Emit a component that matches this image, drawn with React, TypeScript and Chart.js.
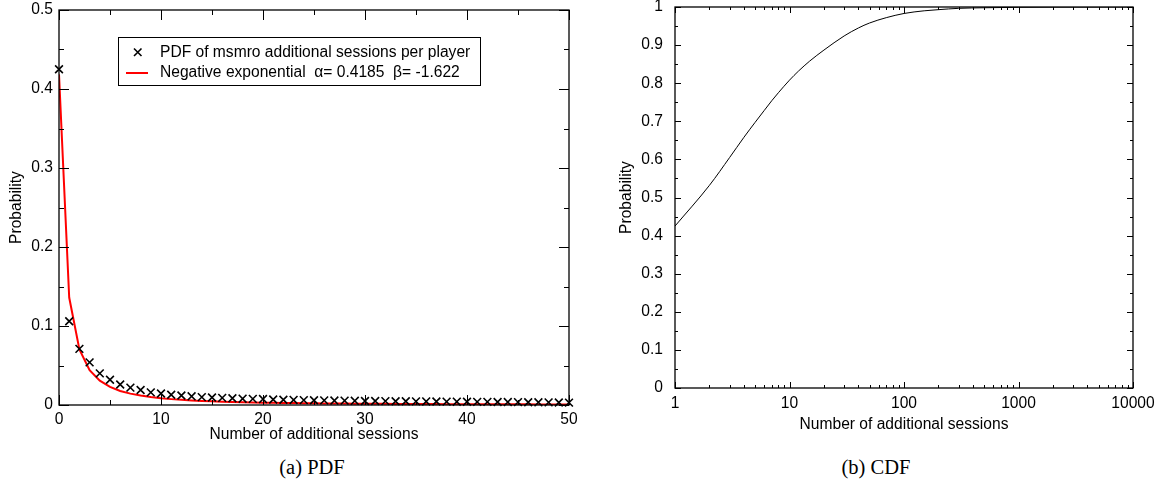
import React, { useEffect, useRef } from "react";
import { Chart, registerables } from "chart.js";

Chart.register(...registerables);

// ---------- Data ----------
const pdfX = [
  0, 1, 2, 3, 4, 5, 6, 7, 8, 9, 10, 11, 12, 13, 14, 15, 16, 17, 18, 19, 20, 21, 22, 23, 24, 25,
  26, 27, 28, 29, 30, 31, 32, 33, 34, 35, 36, 37, 38, 39, 40, 41, 42, 43, 44, 45, 46, 47, 48, 49, 50,
];
const pdfObserved = [
  0.425, 0.106, 0.071, 0.054, 0.04, 0.032, 0.026, 0.022, 0.019, 0.016, 0.0145, 0.013, 0.012, 0.011,
  0.01, 0.0095, 0.009, 0.0085, 0.008, 0.0078, 0.0075, 0.007, 0.0067, 0.0064, 0.0062, 0.006, 0.0058,
  0.0056, 0.0055, 0.0053, 0.0051, 0.005, 0.0049, 0.0048, 0.0047, 0.0046, 0.0045, 0.0044, 0.0043,
  0.0042, 0.0041, 0.004, 0.0039, 0.0038, 0.0037, 0.0036, 0.0035, 0.0034, 0.0033, 0.0032, 0.003,
];
const pdfFit = [
  0.4185, 0.136, 0.0704, 0.0442, 0.0308, 0.0229, 0.0178, 0.0144, 0.0119, 0.01, 0.00856, 0.00744,
  0.00653, 0.00579, 0.00518, 0.00466, 0.00423, 0.00385, 0.00353, 0.00324, 0.003, 0.00278, 0.00259,
  0.00241, 0.00226, 0.00212, 0.002, 0.00188, 0.00178, 0.00168, 0.0016, 0.00152, 0.00144, 0.00137,
  0.00131, 0.00125, 0.0012, 0.00115, 0.0011, 0.00105, 0.00101, 0.00097, 0.00094, 0.0009, 0.00087,
  0.00084, 0.00081, 0.00079, 0.00076, 0.00073, 0.00071,
];

const cdfX = [1, 2, 3, 4, 5, 6, 7, 8, 10, 12, 15, 20, 30, 40, 50, 70, 100, 150, 200, 300, 500, 1000, 2000, 5000, 10000];
const cdfY = [
  0.425, 0.532, 0.605, 0.658, 0.697, 0.728, 0.754, 0.775, 0.808, 0.832, 0.858, 0.887, 0.924, 0.945,
  0.958, 0.972, 0.983, 0.99, 0.993, 0.9965, 0.998, 0.9992, 0.9997, 0.9999, 1.0,
];

// ---------- Tick values ----------
const pdfXTicks = [0, 10, 20, 30, 40, 50];
const pdfXMinor = [5, 15, 25, 35, 45];
const pdfYTicks = [0, 0.1, 0.2, 0.3, 0.4, 0.5];
const pdfYMinor = [0.05, 0.15, 0.25, 0.35, 0.45];

const cdfXTicks = [1, 10, 100, 1000, 10000];
const cdfXMinor = [
  2, 3, 4, 5, 6, 7, 8, 9, 20, 30, 40, 50, 60, 70, 80, 90, 200, 300, 400, 500, 600, 700, 800, 900,
  2000, 3000, 4000, 5000, 6000, 7000, 8000, 9000,
];
const cdfYTicks = [0, 0.1, 0.2, 0.3, 0.4, 0.5, 0.6, 0.7, 0.8, 0.9, 1];
const cdfYMinor = [0.05, 0.15, 0.25, 0.35, 0.45, 0.55, 0.65, 0.75, 0.85, 0.95];

const legendLabels = ["PDF of msmro additional sessions per player", "Negative exponential  \u03b1= 0.4185  \u03b2= -1.622"];

const FONT_FAMILY = '"Liberation Sans", Arial, Helvetica, sans-serif';
const FONT_SIZE = 15.6;

// ---------- Plugins ----------
const frameTicks = {
  id: "frameTicks",
  afterDatasetsDraw(chart: any, _args: any, opts: any) {
    const { ctx, chartArea: a, scales } = chart;
    const xs = scales.x;
    const ys = scales.y;
    ctx.save();
    ctx.strokeStyle = "#000";
    ctx.lineWidth = 1;
    const seg = (x1: number, y1: number, x2: number, y2: number) => {
      ctx.beginPath();
      ctx.moveTo(x1, y1);
      ctx.lineTo(x2, y2);
      ctx.stroke();
    };
    const xTicks = (vals: number[], len: number) =>
      vals.forEach((v) => {
        const p = Math.round(xs.getPixelForValue(v)) + 0.5;
        seg(p, a.bottom, p, a.bottom - len);
        seg(p, a.top, p, a.top + len);
      });
    const yTicks = (vals: number[], len: number) =>
      vals.forEach((v) => {
        const p = Math.round(ys.getPixelForValue(v)) + 0.5;
        seg(a.left, p, a.left + len, p);
        seg(a.right, p, a.right - len, p);
      });
    xTicks(opts.xMajor || [], opts.majorLen);
    xTicks(opts.xMinor || [], opts.minorLen);
    yTicks(opts.yMajor || [], opts.majorLen);
    yTicks(opts.yMinor || [], opts.minorLen);
    ctx.lineWidth = 1.3;
    ctx.strokeRect(a.left, a.top, a.right - a.left, a.bottom - a.top);
    ctx.restore();
  },
};

const boxLegend = {
  id: "boxLegend",
  afterDraw(chart: any, _args: any, opts: any) {
    if (!opts || !opts.show) return;
    const { ctx } = chart;
    ctx.save();
    ctx.fillStyle = "#fff";
    ctx.fillRect(118, 37, 362, 48);
    ctx.strokeStyle = "#000";
    ctx.lineWidth = 1;
    ctx.strokeRect(118.5, 37.5, 362, 48);
    // marker
    ctx.lineWidth = 1.6;
    ctx.beginPath();
    ctx.moveTo(134, 48.5);
    ctx.lineTo(141.5, 56);
    ctx.moveTo(141.5, 48.5);
    ctx.lineTo(134, 56);
    ctx.stroke();
    // red line
    ctx.strokeStyle = "#ff0000";
    ctx.lineWidth = 2;
    ctx.beginPath();
    ctx.moveTo(126, 73);
    ctx.lineTo(148, 73);
    ctx.stroke();
    ctx.fillStyle = "#000";
    ctx.font = `${FONT_SIZE}px ${FONT_FAMILY}`;
    ctx.textBaseline = "middle";
    ctx.textAlign = "left";
    ctx.fillText(legendLabels[0], 160, 52.5);
    ctx.fillText(legendLabels[1], 160, 73);
    ctx.restore();
  },
};

const baseFont = { family: FONT_FAMILY, size: FONT_SIZE };

export default function App() {
  const leftRef = useRef<HTMLCanvasElement>(null);
  const rightRef = useRef<HTMLCanvasElement>(null);

  useEffect(() => {
    Chart.defaults.color = "#000";
    Chart.defaults.font.family = FONT_FAMILY;

    const left = new Chart(leftRef.current as HTMLCanvasElement, {
      type: "scatter",
      data: {
        datasets: [
          {
            type: "scatter",
            label: "PDF of msmro additional sessions per player",
            data: pdfX.map((x, i) => ({ x, y: pdfObserved[i] })),
            pointStyle: "crossRot",
            pointRadius: 5.5,
            borderColor: "#000",
            backgroundColor: "#000",
            borderWidth: 1.6,
            clip: false,
          } as any,
          {
            type: "line",
            label: "Negative exponential",
            data: pdfX.map((x, i) => ({ x, y: pdfFit[i] })),
            borderColor: "#ff0000",
            borderWidth: 2,
            pointRadius: 0,
            fill: false,
            tension: 0,
          } as any,
        ],
      },
      options: {
        animation: false,
        responsive: false,
        layout: { padding: { left: 0, right: 11, top: 10, bottom: 0 } },
        plugins: {
          legend: { display: false },
          tooltip: { enabled: false },
          frameTicks: { xMajor: pdfXTicks, xMinor: pdfXMinor, yMajor: pdfYTicks, yMinor: pdfYMinor, majorLen: 10, minorLen: 5 },
          boxLegend: { show: true },
        } as any,
        scales: {
          x: {
            type: "linear",
            min: 0,
            max: 50,
            grid: { display: false, drawTicks: false, tickLength: 0 },
            border: { display: false },
            ticks: { padding: 5, font: baseFont, color: "#000", maxRotation: 0, callback: (v: any) => String(v) },
            afterBuildTicks: (s: any) => {
              s.ticks = pdfXTicks.map((v) => ({ value: v }));
            },
            afterFit: (s: any) => {
              s.height = 40;
              s.paddingLeft = 0;
              s.paddingRight = 0;
            },
            title: { display: true, text: "Number of additional sessions", font: baseFont, color: "#000", padding: { top: 0, bottom: 1 } },
          },
          y: {
            type: "linear",
            min: 0,
            max: 0.5,
            grid: { display: false, drawTicks: false, tickLength: 0 },
            border: { display: false },
            ticks: { padding: 6, font: baseFont, color: "#000", callback: (v: any) => String(v) },
            afterBuildTicks: (s: any) => {
              s.ticks = pdfYTicks.map((v) => ({ value: v }));
            },
            afterFit: (s: any) => {
              s.width = 59;
              s.paddingTop = 0;
              s.paddingBottom = 0;
            },
            title: { display: true, text: "Probability", font: baseFont, color: "#000", padding: { top: 7.6, bottom: 0 } },
          },
        },
      } as any,
      plugins: [frameTicks, boxLegend],
    });

    const right = new Chart(rightRef.current as HTMLCanvasElement, {
      type: "scatter",
      data: {
        datasets: [
          {
            type: "scatter",
            label: "CDF",
            data: cdfX.map((x, i) => ({ x, y: cdfY[i] })),
            showLine: true,
            borderColor: "#000",
            borderWidth: 1,
            pointRadius: 0,
            fill: false,
            cubicInterpolationMode: "monotone",
          } as any,
        ],
      },
      options: {
        animation: false,
        responsive: false,
        layout: { padding: { left: 0, right: 29, top: 7, bottom: 0 } },
        plugins: {
          legend: { display: false },
          tooltip: { enabled: false },
          frameTicks: { xMajor: cdfXTicks, xMinor: cdfXMinor, yMajor: cdfYTicks, yMinor: cdfYMinor, majorLen: 6, minorLen: 3 },
          boxLegend: { show: false },
        } as any,
        scales: {
          x: {
            type: "logarithmic",
            min: 1,
            max: 10000,
            grid: { display: false, drawTicks: false, tickLength: 0 },
            border: { display: false },
            ticks: { padding: 6, font: baseFont, color: "#000", maxRotation: 0, autoSkip: false, callback: (v: any) => String(v) },
            afterBuildTicks: (s: any) => {
              s.ticks = cdfXTicks.map((v) => ({ value: v }));
            },
            afterFit: (s: any) => {
              s.height = 57;
              s.paddingLeft = 0;
              s.paddingRight = 0;
            },
            title: { display: true, text: "Number of additional sessions", font: baseFont, color: "#000", padding: { top: 0, bottom: 10.6 } },
          },
          y: {
            type: "linear",
            min: 0,
            max: 1,
            grid: { display: false, drawTicks: false, tickLength: 0 },
            border: { display: false },
            ticks: { padding: 12, font: baseFont, color: "#000", callback: (v: any) => String(v) },
            afterBuildTicks: (s: any) => {
              s.ticks = cdfYTicks.map((v) => ({ value: v }));
            },
            afterFit: (s: any) => {
              s.width = 95;
              s.paddingTop = 0;
              s.paddingBottom = 0;
            },
            title: { display: true, text: "Probability", font: baseFont, color: "#000", padding: { top: 37.3, bottom: 0 } },
          },
        },
      } as any,
      plugins: [frameTicks],
    });

    return () => {
      left.destroy();
      right.destroy();
    };
  }, []);

  const captionStyle: React.CSSProperties = {
    position: "absolute",
    top: 456,
    width: 200,
    textAlign: "center",
    fontFamily: '"Liberation Serif", "Times New Roman", serif',
    fontSize: 20.5,
    lineHeight: "22px",
    color: "#000",
  };

  return (
    <div style={{ position: "fixed", left: 0, top: 0, width: 1162, height: 482, background: "#fff", overflow: "hidden" }}>
      <canvas ref={leftRef} width={580} height={445} style={{ position: "absolute", left: 0, top: 0 }} />
      <canvas ref={rightRef} width={582} height={445} style={{ position: "absolute", left: 580, top: 0 }} />
      <div style={{ ...captionStyle, left: 212 }}>(a) PDF</div>
      <div style={{ ...captionStyle, left: 776 }}>(b) CDF</div>
    </div>
  );
}
